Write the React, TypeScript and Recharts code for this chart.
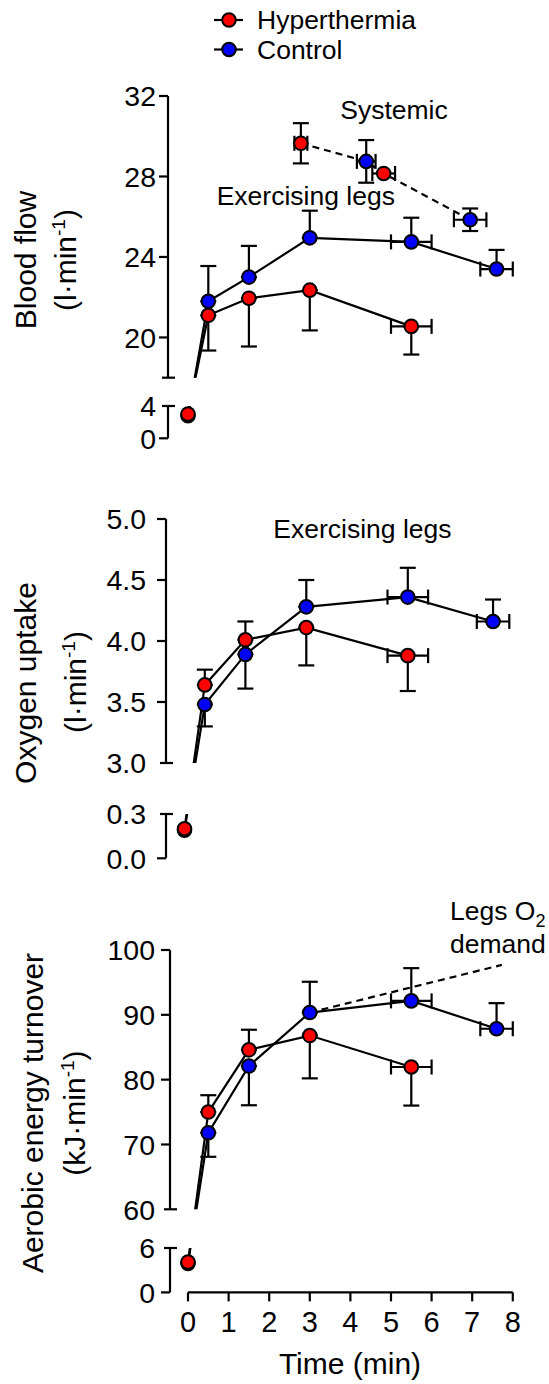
import { ComposedChart, Line, Scatter, ErrorBar, XAxis, YAxis, ReferenceLine } from "recharts";

const FONT = '"Liberation Sans", Arial, Helvetica, sans-serif';
const RED = "#ff0000";
const BLUE = "#0000ff";
const INK = "#000000";

// time points (min) and horizontal spread of the late samples
const hyperTime = [0, 0.5, 1.5, 3, 5.5];
const controlTime = [0, 0.5, 1.5, 3, 5.5, 7.6];
const hyperTimeErr = [0, 0, 0, 0, 0.5];
const controlTimeErr = [0, 0, 0, 0, 0.5, 0.4];
const timeTicks = [0, 1, 2, 3, 4, 5, 6, 7, 8];

// blood flow, exercising legs (l/min)
const flowHyper = [3.0, 21.1, 21.95, 22.35, 20.55];
const flowHyperUp = [0, 0, 0, 0, 0];
const flowHyperDown = [0, 1.75, 2.4, 2.0, 1.4];
const flowControl = [2.8, 21.8, 23.0, 24.95, 24.75, 23.4];
const flowControlUp = [0, 1.75, 1.55, 1.35, 1.2, 0.95];
const flowControlDown = [0, 0, 0, 0, 0, 0];

// blood flow, systemic (l/min)
const sysHyperTime = [2.78, 4.82];
const sysHyperTimeErr = [0.16, 0.28];
const sysHyper = [29.65, 28.15];
const sysHyperErr = [1.0, 0];
const sysControlTime = [4.39, 6.95];
const sysControlTimeErr = [0.23, 0.4];
const sysControl = [28.75, 25.85];
const sysControlErr = [1.06, 0.56];

// oxygen uptake, exercising legs (l/min)
const o2Hyper = [0.2, 3.64, 4.01, 4.11, 3.88];
const o2HyperUp = [0, 0.125, 0.15, 0, 0];
const o2HyperDown = [0, 0, 0, 0.31, 0.29];
const o2Control = [0.19, 3.48, 3.89, 4.28, 4.36, 4.16];
const o2ControlUp = [0, 0, 0, 0.22, 0.24, 0.18];
const o2ControlDown = [0, 0.18, 0.28, 0, 0, 0];

// aerobic energy turnover (kJ/min)
const energyHyper = [4.1, 75.0, 84.6, 86.8, 81.95];
const energyHyperUp = [0, 2.6, 3.1, 0, 0];
const energyHyperDown = [0, 0, 0, 6.6, 5.95];
const energyControl = [3.9, 71.8, 82.1, 90.35, 92.15, 87.85];
const energyControlUp = [0, 0, 0, 4.75, 5.05, 3.95];
const energyControlDown = [0, 3.7, 6.05, 0, 0, 0];
const demandTime = [3, 7.73];
const demandEnergy = [90.35, 97.7];

const legendLabels = ["Hyperthermia", "Control"];
const legendColors = [RED, BLUE];

type Seg = {
  top: number;
  bottom: number;
  domain: [number, number];
  ticks: number[];
  cap: number;
  unlabeled: number[];
  digits: number;
};
type LineSeries = { time: number[]; values: number[]; dashed?: boolean };
type PointSeries = {
  time: number[];
  values: number[];
  up: number[];
  down: number[];
  timeErr: number[];
  color: string;
};
type Panel = {
  axisX: number;
  x0: number;
  labelGap: number;
  upper: Seg;
  lower: Seg;
  lines: LineSeries[];
  points: PointSeries[];
};

const systemic = [
  ...sysHyperTime.map((t, i) => ({ t, v: sysHyper[i] })),
  ...sysControlTime.map((t, i) => ({ t, v: sysControl[i] })),
].sort((a, b) => a.t - b.t);

const panels: Panel[] = [
  {
    axisX: 168,
    x0: 188,
    labelGap: 12,
    upper: { top: 96, bottom: 377.7, domain: [18, 32], ticks: [18, 20, 24, 28, 32], cap: 18, unlabeled: [18], digits: 0 },
    lower: { top: 406, bottom: 438.3, domain: [0, 4], ticks: [0, 4], cap: 4, unlabeled: [], digits: 0 },
    lines: [
      { time: controlTime, values: flowControl },
      { time: hyperTime, values: flowHyper },
      { time: systemic.map((d) => d.t), values: systemic.map((d) => d.v), dashed: true },
    ],
    points: [
      { time: controlTime, values: flowControl, up: flowControlUp, down: flowControlDown, timeErr: controlTimeErr, color: BLUE },
      { time: sysControlTime, values: sysControl, up: sysControlErr, down: sysControlErr, timeErr: sysControlTimeErr, color: BLUE },
      { time: hyperTime, values: flowHyper, up: flowHyperUp, down: flowHyperDown, timeErr: hyperTimeErr, color: RED },
      { time: sysHyperTime, values: sysHyper, up: sysHyperErr, down: sysHyperErr, timeErr: sysHyperTimeErr, color: RED },
    ],
  },
  {
    axisX: 166,
    x0: 184.5,
    labelGap: 20,
    upper: { top: 519.3, bottom: 763.3, domain: [3, 5], ticks: [3, 3.5, 4, 4.5, 5], cap: 3, unlabeled: [], digits: 1 },
    lower: { top: 814, bottom: 858.3, domain: [0, 0.3], ticks: [0, 0.3], cap: 0.3, unlabeled: [], digits: 1 },
    lines: [
      { time: controlTime, values: o2Control },
      { time: hyperTime, values: o2Hyper },
    ],
    points: [
      { time: controlTime, values: o2Control, up: o2ControlUp, down: o2ControlDown, timeErr: controlTimeErr, color: BLUE },
      { time: hyperTime, values: o2Hyper, up: o2HyperUp, down: o2HyperDown, timeErr: hyperTimeErr, color: RED },
    ],
  },
  {
    axisX: 170,
    x0: 188,
    labelGap: 15,
    upper: { top: 950, bottom: 1209.3, domain: [60, 100], ticks: [60, 70, 80, 90, 100], cap: 60, unlabeled: [], digits: 0 },
    lower: { top: 1248.3, bottom: 1292.7, domain: [0, 6], ticks: [0, 6], cap: 6, unlabeled: [], digits: 0 },
    lines: [
      { time: demandTime, values: demandEnergy, dashed: true },
      { time: controlTime, values: energyControl },
      { time: hyperTime, values: energyHyper },
    ],
    points: [
      { time: controlTime, values: energyControl, up: energyControlUp, down: energyControlDown, timeErr: controlTimeErr, color: BLUE },
      { time: hyperTime, values: energyHyper, up: energyHyperUp, down: energyHyperDown, timeErr: hyperTimeErr, color: RED },
    ],
  },
];

const PAGE_W = 549;
const PAGE_H = 1384;
const M = 20;
const X_AXIS_H = 70;
const MIN_PX = 40.6;
const RIGHT_PAD = 3;
const DOT_R = 6.8;
const STROKE = 2.2;

const pxPerUnit = (s: Seg) => (s.bottom - s.top) / (s.domain[1] - s.domain[0]);
const toPx = (s: Seg, v: number) => s.bottom - (v - s.domain[0]) * pxPerUnit(s);
const fromPx = (s: Seg, px: number) => s.domain[0] + (s.bottom - px) / pxPerUnit(s);
const inLower = (p: Panel, v: number) => v <= p.lower.domain[1];

// express a value in the units of one axis segment so a line runs on across the break
const segValue = (p: Panel, v: number, lower: boolean) => {
  const own = inLower(p, v) ? p.lower : p.upper;
  const target = lower ? p.lower : p.upper;
  return own === target ? v : fromPx(target, toPx(own, v));
};

function renderSegment(p: Panel, lower: boolean, showX: boolean, key: string) {
  const seg = lower ? p.lower : p.upper;
  const plotRight = p.x0 + 8 * MIN_PX + RIGHT_PAD;
  const h = seg.bottom - seg.top + M + (showX ? X_AXIS_H : M);
  // the time axis starts a little right of the y axis, as in the original figure
  const xDomain: [number, number] = [-(p.x0 - p.axisX) / MIN_PX, 8 + RIGHT_PAD / MIN_PX];

  const tick = (props: any) => {
    const { y, payload, index } = props;
    const v = payload.value as number;
    const isCap = Math.abs(v - seg.cap) < 1e-9;
    const label = seg.unlabeled.includes(v) ? "" : v.toFixed(seg.digits);
    return (
      <g key={`t-${index}`}>
        <line x1={isCap ? p.axisX - 6 : p.axisX - 9} x2={isCap ? p.axisX + 7 : p.axisX} y1={y} y2={y} stroke={INK} strokeWidth={STROKE} />
        <text x={p.axisX - p.labelGap} y={y} dy="0.36em" textAnchor="end" fontSize={28.5} fontFamily={FONT} fill={INK}>
          {label}
        </text>
      </g>
    );
  };

  const lineEls = p.lines
    .filter((l) => l.values.some((v) => inLower(p, v) === lower))
    .map((l, i) => (
      <Line
        key={`line-${i}`}
        data={l.time.map((t, j) => ({ t, v: segValue(p, l.values[j], lower) }))}
        dataKey="v"
        type="linear"
        stroke={INK}
        strokeWidth={STROKE}
        strokeDasharray={l.dashed ? "7 5" : undefined}
        dot={false}
        activeDot={false}
        isAnimationActive={false}
      />
    ));

  const pointEls = p.points.map((s, i) => {
    const data = s.time
      .map((t, j) => ({
        t,
        v: s.values[j],
        ey: s.up[j] || s.down[j] ? [s.down[j], s.up[j]] : null,
        ex: s.timeErr[j] || null,
      }))
      .filter((d) => inLower(p, d.v) === lower);
    if (!data.length) return null;
    return (
      <Scatter
        key={`pts-${i}`}
        data={data}
        dataKey="v"
        isAnimationActive={false}
        shape={(sp: any) => <circle cx={sp.cx} cy={sp.cy} r={DOT_R} fill={s.color} stroke={INK} strokeWidth={2} />}
      >
        <ErrorBar dataKey="ey" direction="y" width={8} stroke={INK} strokeWidth={STROKE} />
        <ErrorBar dataKey="ex" direction="x" width={7.5} stroke={INK} strokeWidth={STROKE} />
      </Scatter>
    );
  });

  return (
    <div key={key} style={{ position: "absolute", left: 0, top: seg.top - M }}>
      <ComposedChart
        width={PAGE_W}
        height={h}
        margin={{ top: M, right: PAGE_W - plotRight, bottom: showX ? 0 : M, left: 0 }}
      >
        <XAxis
          type="number"
          dataKey="t"
          domain={xDomain}
          allowDataOverflow
          ticks={timeTicks}
          interval={0}
          hide={!showX}
          height={X_AXIS_H}
          axisLine={false}
          tickLine={{ stroke: INK, strokeWidth: STROKE }}
          tickSize={9}
          tickMargin={10}
          tick={{ fontSize: 29, fill: INK, fontFamily: FONT }}
        />
        <YAxis
          type="number"
          dataKey="v"
          domain={seg.domain}
          allowDataOverflow
          ticks={seg.ticks}
          interval={0}
          width={p.axisX}
          axisLine={{ stroke: INK, strokeWidth: STROKE }}
          tickLine={false}
          tick={tick}
        />
        {lineEls}
        {pointEls}
        {showX && (
          <ReferenceLine
            segment={[
              { x: 0, y: 0 },
              { x: 8, y: 0 },
            ]}
            stroke={INK}
            strokeWidth={STROKE}
            ifOverflow="visible"
          />
        )}
      </ComposedChart>
    </div>
  );
}

const Unit = ({ x, y, prefix }: { x: number; y: number; prefix: string }) => (
  <text x={x} y={y} transform={`rotate(-90 ${x} ${y})`} textAnchor="middle" fontSize={30} fill={INK}>
    {prefix}
    <tspan dy={-11} fontSize={19}>
      -1
    </tspan>
    <tspan dy={11}>)</tspan>
  </text>
);

const Title = ({ x, y, text }: { x: number; y: number; text: string }) => (
  <text x={x} y={y} transform={`rotate(-90 ${x} ${y})`} textAnchor="middle" fontSize={30} fill={INK}>
    {text}
  </text>
);

export default function App() {
  return (
    <div style={{ position: "absolute", left: 0, top: 0, width: PAGE_W, height: PAGE_H, background: "#fff" }}>
      {panels.map((p, i) => [
        renderSegment(p, false, false, `u${i}`),
        renderSegment(p, true, i === panels.length - 1, `l${i}`),
      ])}
      <svg
        width={PAGE_W}
        height={PAGE_H}
        style={{ position: "absolute", left: 0, top: 0, pointerEvents: "none" }}
        fontFamily={FONT}
      >
        {legendLabels.map((label, i) => (
          <g key={label}>
            <line x1={214} x2={243} y1={20 + i * 29.5} y2={20 + i * 29.5} stroke={INK} strokeWidth={STROKE} />
            <circle cx={229} cy={20 + i * 29.5} r={DOT_R} fill={legendColors[i]} stroke={INK} strokeWidth={2} />
            <text x={257} y={29 + i * 29.5} fontSize={26.5} fill={INK}>
              {label}
            </text>
          </g>
        ))}

        <text x={394} y={118.5} textAnchor="middle" fontSize={26.5} fill={INK}>
          Systemic
        </text>
        <text x={216.7} y={205} fontSize={26.5} fill={INK}>
          Exercising legs
        </text>
        <text x={273.3} y={538.3} fontSize={26.5} fill={INK}>
          Exercising legs
        </text>
        <text x={450} y={920} fontSize={26.5} fill={INK}>
          Legs O
          <tspan dy={7} fontSize={18}>
            2
          </tspan>
        </text>
        <text x={450} y={953} fontSize={26.5} fill={INK}>
          demand
        </text>

        <Title x={36} y={260} text="Blood flow" />
        <Unit x={76} y={260} prefix="(l·min" />
        <Title x={36} y={683} text="Oxygen uptake" />
        <Unit x={86} y={682} prefix="(l·min" />
        <Title x={43} y={1113} text="Aerobic energy turnover" />
        <Unit x={85} y={1113} prefix="(kJ·min" />

        <text x={350} y={1374} textAnchor="middle" fontSize={30} fill={INK}>
          Time (min)
        </text>
      </svg>
    </div>
  );
}
